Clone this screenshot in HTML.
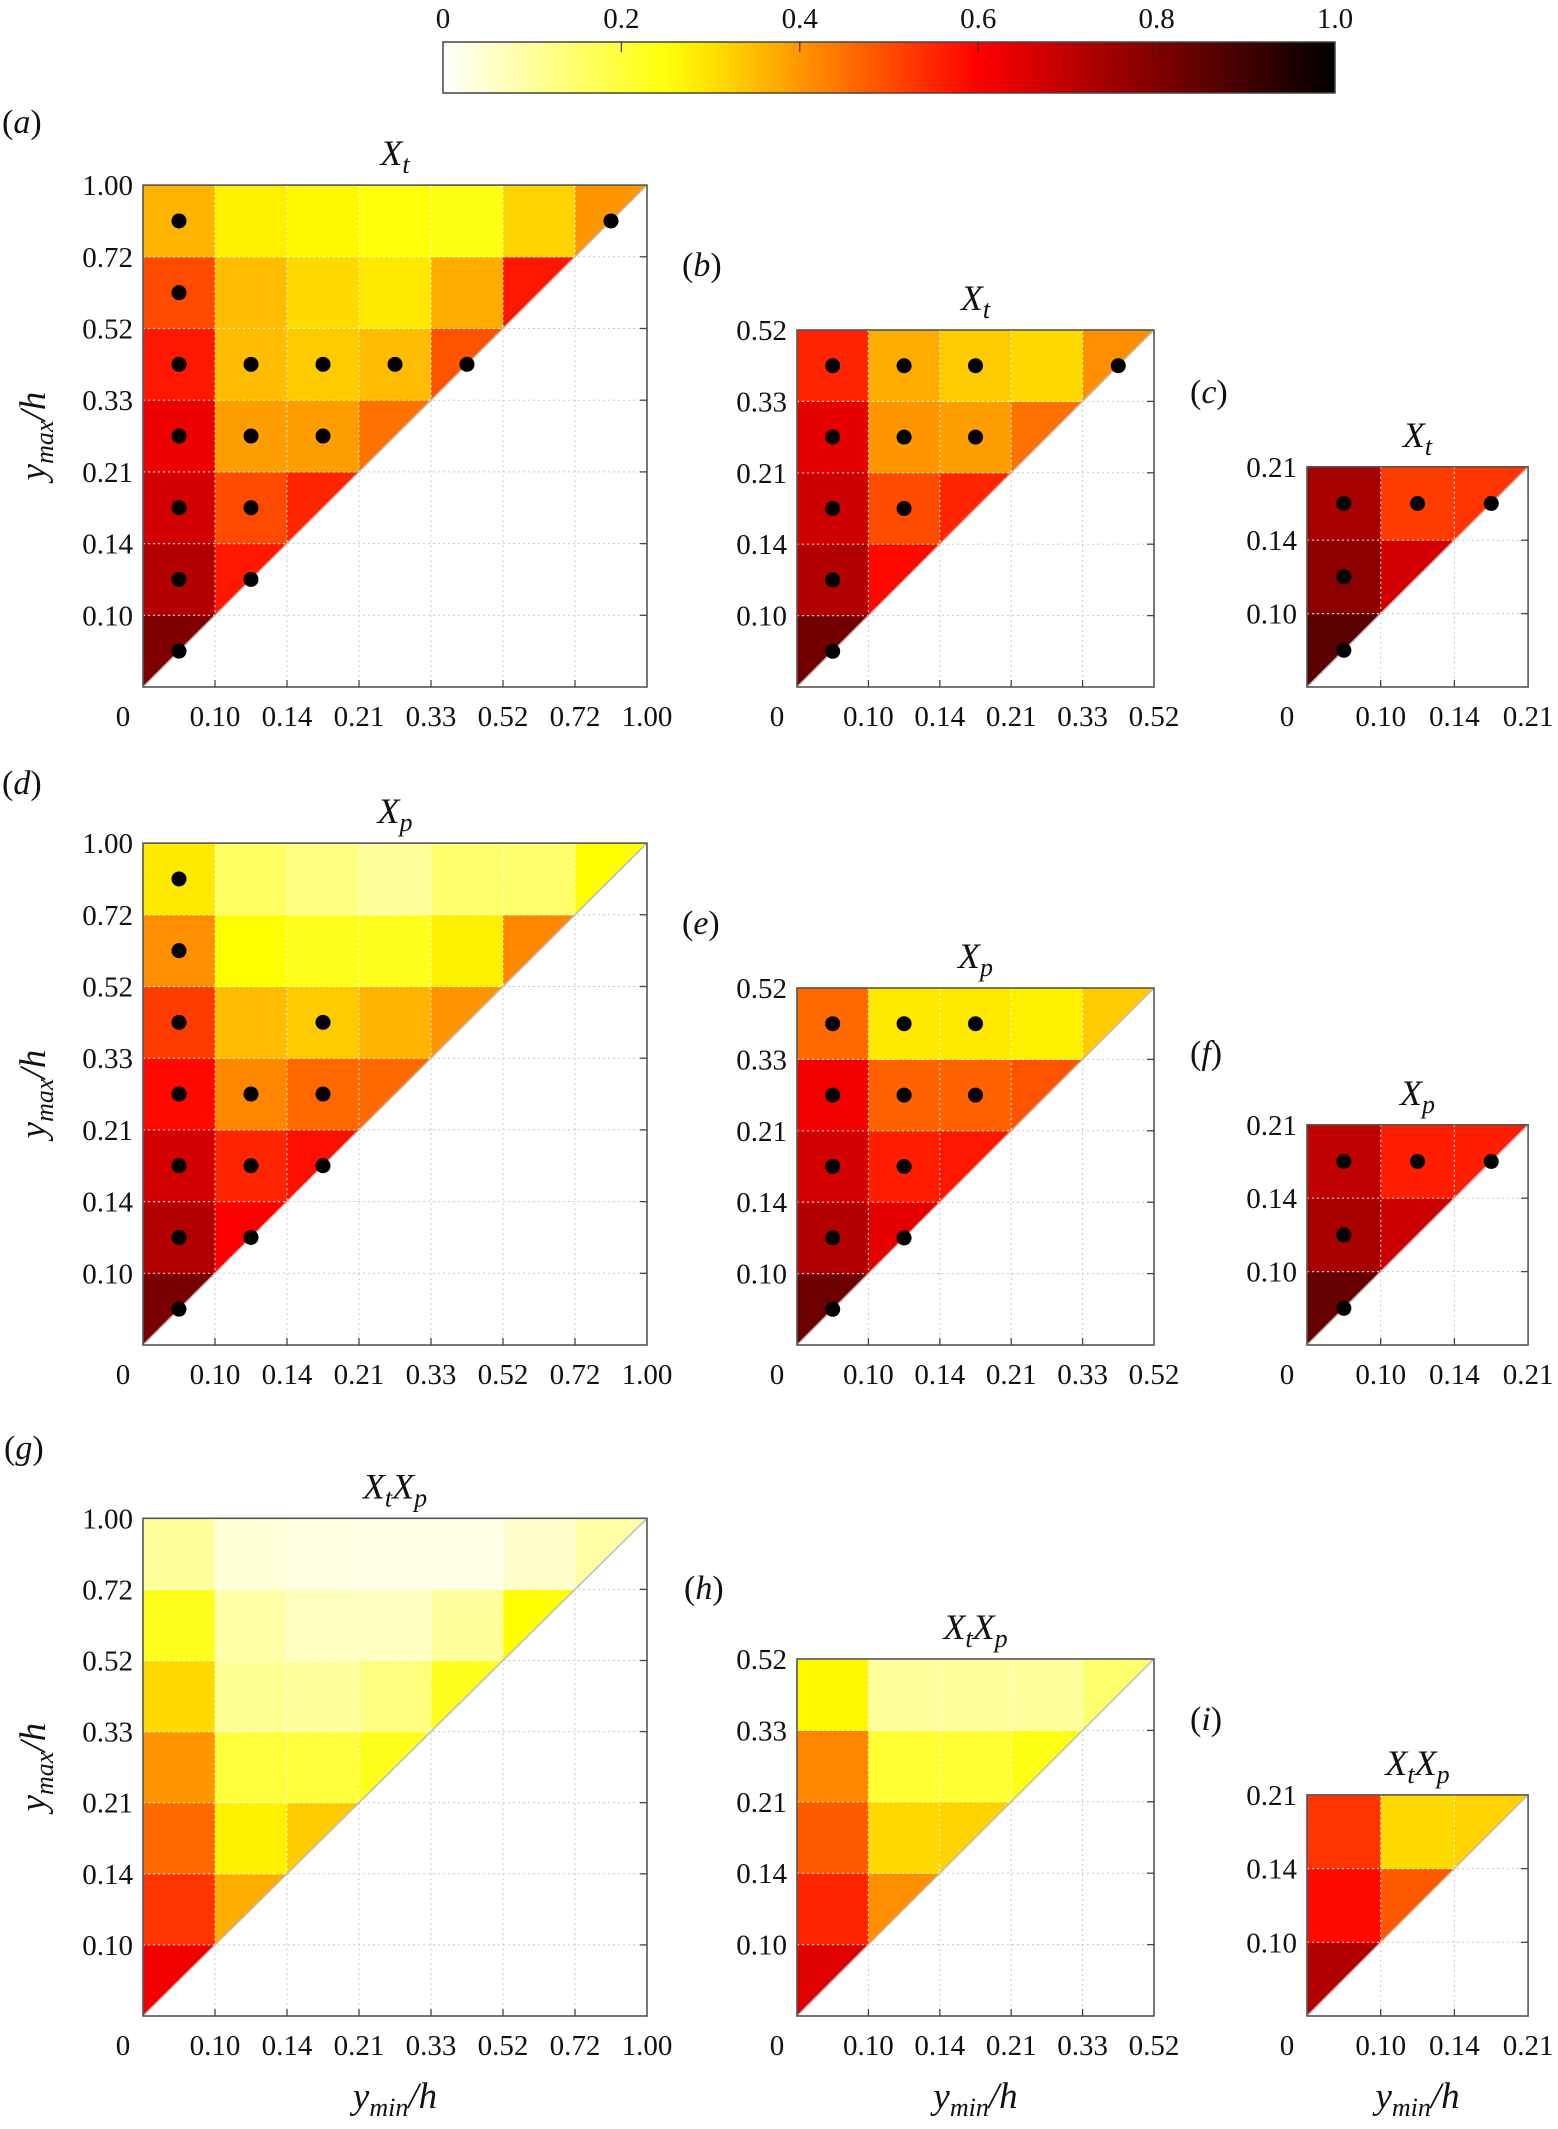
<!DOCTYPE html>
<html><head><meta charset="utf-8">
<style>
html,body{margin:0;padding:0;background:#fff;}
svg{display:block;font-family:"Liberation Serif","Times New Roman",serif;}
svg text{font-family:"Liberation Serif","Times New Roman",serif;}
</style></head>
<body>
<svg id="fig" width="1558" height="2129" viewBox="0 0 1558 2129" xmlns="http://www.w3.org/2000/svg"></svg>
<script>
// tick labels
const tickLabels = ["0","0.10","0.14","0.21","0.33","0.52","0.72","1.00"];
const cbarTicks = [0,0.2,0.4,0.6,0.8,1.0];
const cbarTickLabels = ["0","0.2","0.4","0.6","0.8","1.0"];
// values per panel: rows from bottom (ymax index), columns ymin index (col<=row)
const valsA = [[0.80],[0.72,0.57],[0.67,0.50,0.55],[0.63,0.39,0.39,0.45],[0.57,0.35,0.33,0.35,0.49],[0.50,0.35,0.31,0.29,0.37,0.57],[0.36,0.28,0.27,0.25,0.24,0.32,0.40]];
const valsB = [[0.82],[0.72,0.59],[0.68,0.50,0.55],[0.64,0.40,0.39,0.45],[0.55,0.37,0.33,0.31,0.41]];
const valsC = [[0.86],[0.78,0.67],[0.74,0.52,0.53]];
const valsD = [[0.81],[0.72,0.60],[0.67,0.55,0.58],[0.59,0.42,0.46,0.46],[0.52,0.35,0.33,0.36,0.40],[0.41,0.26,0.23,0.23,0.28,0.42],[0.29,0.16,0.13,0.10,0.15,0.15,0.26]];
const valsE = [[0.83],[0.72,0.64],[0.67,0.56,0.57],[0.62,0.47,0.47,0.49],[0.46,0.29,0.29,0.28,0.33]];
const valsF = [[0.84],[0.74,0.68],[0.70,0.56,0.56]];
const valsG = [[0.62],[0.53,0.37],[0.46,0.28,0.33],[0.40,0.20,0.20,0.23],[0.31,0.11,0.10,0.13,0.23],[0.23,0.09,0.065,0.065,0.10,0.26],[0.10,0.04,0.03,0.025,0.025,0.05,0.09]];
const valsH = [[0.65],[0.55,0.41],[0.48,0.31,0.32],[0.42,0.21,0.21,0.24],[0.27,0.10,0.10,0.10,0.15]];
const valsI = [[0.72],[0.59,0.48],[0.53,0.31,0.32]];
// dot markers [row, col]
const dotsA = [[0,0],[1,0],[1,1],[2,0],[2,1],[3,0],[3,1],[3,2],[4,0],[4,1],[4,2],[4,3],[4,4],[5,0],[6,0],[6,6]];
const dotsB = [[0,0],[1,0],[2,0],[2,1],[3,0],[3,1],[3,2],[4,0],[4,1],[4,2],[4,4]];
const dotsC = [[0,0],[1,0],[2,0],[2,1],[2,2]];
const dotsD = [[0,0],[1,0],[1,1],[2,0],[2,1],[2,2],[3,0],[3,1],[3,2],[4,0],[4,2],[5,0],[6,0]];
const dotsE = [[0,0],[1,0],[1,1],[2,0],[2,1],[3,0],[3,1],[3,2],[4,0],[4,1],[4,2]];
const dotsF = [[0,0],[1,0],[2,0],[2,1],[2,2]];
const dotsNone = [];

const NS="http://www.w3.org/2000/svg";
const FF='"Liberation Serif","Times New Roman",serif';
const svg=document.getElementById('fig');
function mk(tag,attrs,parent){const e=document.createElementNS(NS,tag);for(const k in attrs)e.setAttribute(k,attrs[k]);if(tag==='text')e.setAttribute('font-family',FF);(parent||svg).appendChild(e);return e;}

const stops=[[0,[255,255,255]],[0.26,[255,255,0]],[0.6,[255,0,0]],[1,[0,0,0]]];
function cmap(v){v=Math.max(0,Math.min(1,v));for(let i=1;i<stops.length;i++){if(v<=stops[i][0]){const a=stops[i-1],b=stops[i];const t=(v-a[0])/(b[0]-a[0]);const c=a[1].map((x,k)=>Math.round(x+(b[1][k]-x)*t));return `rgb(${c[0]},${c[1]},${c[2]})`;}}return 'rgb(0,0,0)';}

// colorbar
const cbX0=443,cbX1=1335,cbY0=42,cbY1=93;
const defs=mk('defs',{});
const grad=mk('linearGradient',{id:'cg',x1:0,x2:1,y1:0,y2:0},defs);
for(let i=0;i<=20;i++){const v=i/20;mk('stop',{offset:v,'stop-color':cmap(v)},grad);}
const cbar=mk('rect',{x:cbX0,y:cbY0,width:cbX1-cbX0,height:cbY1-cbY0,fill:'url(#cg)',stroke:'#444','stroke-width':1.5});


function cbx(v){return cbX0+(cbX1-cbX0)*v;}
cbarTicks.forEach((v,i)=>{
  if(v>0&&v<1){const tk=mk('line',{x1:cbx(v),x2:cbx(v),y1:cbY0,y2:cbY0+10,stroke:'#333','stroke-width':1.2});
  
  }
  const t=mk('text',{x:cbx(v),y:28,'font-size':29,'text-anchor':'middle',fill:'#111'});
  t.textContent=cbarTickLabels[i];
  
  
});

function panel(o){
  const n=o.vals.length, L=o.x, B=o.y, cw=o.cw, ch=o.ch, R=L+n*cw, T=B-n*ch;
  const g=mk('g',{});
  
  
  const X=i=>L+i*cw, Y=j=>B-j*ch;
  for(let i=1;i<n;i++){
    mk('line',{x1:X(i),x2:X(i),y1:T,y2:B,stroke:'#c8c8c8','stroke-width':1,'stroke-dasharray':'2,3'},g);
    mk('line',{x1:L,x2:R,y1:Y(i),y2:Y(i),stroke:'#c8c8c8','stroke-width':1,'stroke-dasharray':'2,3'},g);
  }
  o.vals.forEach((row,j)=>row.forEach((v,i)=>{
    let el;
    if(i<j) el=mk('rect',{x:X(i),y:Y(j+1),width:cw+0.5,height:ch+0.5,fill:cmap(v)},g);
    else el=mk('polygon',{points:`${X(i)},${Y(j)} ${X(i)},${Y(j+1)} ${X(i+1)},${Y(j+1)}`,fill:cmap(v)},g);
    
    
  }));
  for(let k=1;k<n;k++){
    mk('line',{x1:L,x2:X(k),y1:Y(k),y2:Y(k),stroke:'#fff','stroke-width':1.2,'stroke-dasharray':'2,3',opacity:0.8},g);
    mk('line',{x1:X(k),x2:X(k),y1:T,y2:Y(k),stroke:'#fff','stroke-width':1.2,'stroke-dasharray':'2,3',opacity:0.8},g);
  }
  mk('line',{x1:L,y1:B,x2:R,y2:T,stroke:'#bbb','stroke-width':1.5},g);
  o.dots.forEach(d=>{
    const c=mk('circle',{cx:X(d[1]+0.5),cy:Y(d[0]+0.5),r:7.5,fill:'#000'},g);
    
    
  });
  mk('rect',{x:L,y:T,width:R-L,height:B-T,fill:'none',stroke:'#555','stroke-width':1.6},g);
  for(let i=0;i<=n;i++){
    if(i>0&&i<n){
      mk('line',{x1:X(i),x2:X(i),y1:B,y2:B-7,stroke:'#444','stroke-width':1.3},g);
      mk('line',{x1:R,x2:R-7,y1:Y(i),y2:Y(i),stroke:'#444','stroke-width':1.3},g);
    }
    const tx=mk('text',{x:i===0?L-20:X(i),y:B+39,'font-size':29,'text-anchor':'middle',fill:'#111'},g);
    tx.textContent=tickLabels[i];
    
    
    if(i>0){
      const ty=mk('text',{x:L-10,y:Y(i)+10,'font-size':29,'text-anchor':'end',fill:'#111'},g);
      ty.textContent=tickLabels[i];
      
      
    }
  }
  const tt=mk('text',{x:(L+R)/2,y:T-20,'font-size':36,'text-anchor':'middle','font-style':'italic',fill:'#111'},g);
  
  
  o.title.forEach(p=>{
    const a=mk('tspan',{},tt);a.textContent=p[0];
    const b=mk('tspan',{'font-size':26,dy:8},tt);b.textContent=p[1];
    const c=mk('tspan',{dy:-8},tt);c.textContent='\u200b';
  });
  const lt=mk('text',{x:o.lx,y:o.ly+11,'font-size':34,fill:'#111'},g);
  
  
  const p1=mk('tspan',{},lt);p1.textContent='(';
  const p2=mk('tspan',{'font-style':'italic'},lt);p2.textContent=o.letter;
  const p3=mk('tspan',{},lt);p3.textContent=')';
  return {L,R,T,B};
}
const tXt=[['X','t']], tXp=[['X','p']], tXtXp=[['X','t'],['X','p']];
const rowsB=[687,1345,2016];
const a=panel({name:'panel-a',vals:valsA,dots:dotsA,x:143,y:rowsB[0],cw:72,ch:71.7,title:tXt,letter:'a',lx:2,ly:122});
panel({name:'panel-b',vals:valsB,dots:dotsB,x:797,y:rowsB[0],cw:71.4,ch:71.4,title:tXt,letter:'b',lx:682,ly:265});
panel({name:'panel-c',vals:valsC,dots:dotsC,x:1307,y:rowsB[0],cw:73.7,ch:73.4,title:tXt,letter:'c',lx:1190,ly:392});
const d=panel({name:'panel-d',vals:valsD,dots:dotsD,x:143,y:rowsB[1],cw:72,ch:71.7,title:tXp,letter:'d',lx:2,ly:783});
panel({name:'panel-e',vals:valsE,dots:dotsE,x:797,y:rowsB[1],cw:71.4,ch:71.4,title:tXp,letter:'e',lx:682,ly:923});
panel({name:'panel-f',vals:valsF,dots:dotsF,x:1307,y:rowsB[1],cw:73.7,ch:73.4,title:tXp,letter:'f',lx:1190,ly:1053});
const g7=panel({name:'panel-g',vals:valsG,dots:dotsNone,x:143,y:rowsB[2],cw:72,ch:71.1,title:tXtXp,letter:'g',lx:4,ly:1448});
const h=panel({name:'panel-h',vals:valsH,dots:dotsNone,x:797,y:rowsB[2],cw:71.4,ch:71.4,title:tXtXp,letter:'h',lx:684,ly:1588});
const ii=panel({name:'panel-i',vals:valsI,dots:dotsNone,x:1307,y:rowsB[2],cw:73.7,ch:73.7,title:tXtXp,letter:'i',lx:1190,ly:1719});

function ylab(cy){
  const t=mk('text',{x:0,y:0,'font-size':37,'font-style':'italic','text-anchor':'middle',fill:'#111',transform:`translate(45,${cy}) rotate(-90)`});
  
  
  const a1=mk('tspan',{},t);a1.textContent='y';
  const a2=mk('tspan',{'font-size':26,dy:8},t);a2.textContent='max';
  const a3=mk('tspan',{dy:-8},t);a3.textContent='/h';
}
ylab((a.T+a.B)/2);ylab((d.T+d.B)/2);ylab((g7.T+g7.B)/2);
function xlab(cx){
  const t=mk('text',{x:cx,y:2108,'font-size':37,'font-style':'italic','text-anchor':'middle',fill:'#111'});
  
  
  const a1=mk('tspan',{},t);a1.textContent='y';
  const a2=mk('tspan',{'font-size':26,dy:8},t);a2.textContent='min';
  const a3=mk('tspan',{dy:-8},t);a3.textContent='/h';
}
xlab((g7.L+g7.R)/2);xlab((h.L+h.R)/2);xlab((ii.L+ii.R)/2);
</script>
</body></html>
